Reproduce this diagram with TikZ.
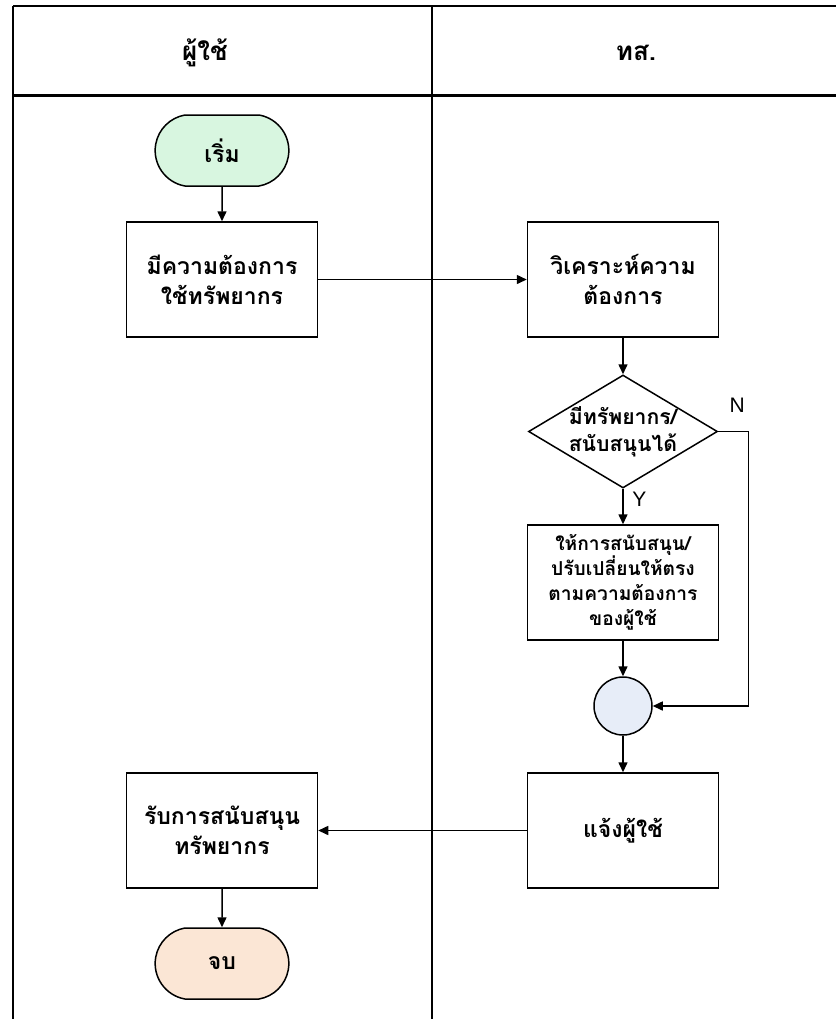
\documentclass[tikz,border=0pt]{standalone}
\usepackage{fontspec}
\setmainfont{Liberation Sans}
\newfontfamily\thaifont[Script=Thai]{Loma}
\usepackage{xcolor}
\usetikzlibrary{arrows.meta,shapes.geometric,shapes.misc,positioning}

\definecolor{startgreen}{RGB}{216,246,224}
\definecolor{endpeach}{RGB}{251,230,213}
\definecolor{mergeblue}{RGB}{231,237,248}

\tikzset{
	lane/.style={line width=0.8pt},
	head/.style={font=\thaifont\bfseries\fontsize{13}{16}\selectfont},
	box/.style={draw,line width=0.75pt,minimum width=95.5pt,minimum height=57.5pt,
		inner sep=2pt,align=center,font=\thaifont\bfseries\fontsize{11.5}{15}\selectfont},
	smallbox/.style={box,font=\thaifont\bfseries\fontsize{9.6}{12.5}\selectfont},
	terminal/.style={draw,line width=0.75pt,rounded rectangle,rounded rectangle arc length=160,
		minimum width=73.5pt,minimum height=35.5pt,font=\thaifont\bfseries\fontsize{11.5}{15}\selectfont},
	decision/.style={draw,line width=0.75pt,diamond,inner sep=0pt,
		minimum width=94.5pt,minimum height=56.5pt},
	dectext/.style={align=center,font=\thaifont\bfseries\fontsize{10.6}{13.5}\selectfont},
	merge/.style={draw,line width=0.75pt,circle,fill=mergeblue,minimum size=29pt},
	flow/.style={line width=0.75pt,-{Triangle[length=5pt,width=4.5pt]}},
	answer/.style={font=\fontsize{10.5}{12}\selectfont}
}

\begin{document}
\begin{tikzpicture}[x=0.5pt,y=-0.5pt]
	\useasboundingbox (0,0) rectangle (836,1019);
	% swimlanes
	\draw[lane,line width=1.2pt] (13,6) -- (836,6) (13,95.5) -- (836,95.5);
	\draw[lane] (13,6) -- (13,1019) (432,6) -- (432,1019);
	\node[head] (userhead)   at (205,53) {ผู้ใช้};
	\node[head] (agencyhead) at (636,53) {ทส.};
	% steps
	\node[terminal,fill=startgreen] (start) at (222,150.5) {เริ่ม};
	\node[box] (need)    at (222,279.5) {มีความต้องการ\\ใช้ทรัพยากร};
	\node[box] (analyse) at (623,279.5) {วิเคราะห์ความ\\ต้องการ};
	\node[decision,label={[dectext]center:{มีทรัพยากร/\\สนับสนุนได้}}] (check) at (623,431.5) {};
	\node[smallbox] (support) at (623,582.5) {ให้การสนับสนุน/\\ปรับเปลี่ยนให้ตรง\\ตามความต้องการ\\ของผู้ใช้};
	\node[merge] (join) at (623,706) {};
	\node[box] (notify)  at (623,830.5) {แจ้งผู้ใช้};
	\node[box] (receive) at (222,830.5) {รับการสนับสนุน\\ทรัพยากร};
	\node[terminal,fill=endpeach] (stop) at (222,963.5) {จบ};
	% connectors
	\draw[flow] (start) -- (need);
	\draw[flow] (need) -- (analyse);
	\draw[flow] (analyse) -- (check);
	\draw[flow] (check) -- node[answer,pos=0.3,right,xshift=1pt]{Y} (support);
	\draw[flow] (check.east) -- ++(30,0) node[answer,above left,xshift=2pt,yshift=6pt]{N} |- (join);
	\draw[flow] (support) -- (join);
	\draw[flow] (join) -- (notify);
	\draw[flow] (notify) -- (receive);
	\draw[flow] (receive) -- (stop);
\end{tikzpicture}
\end{document}
